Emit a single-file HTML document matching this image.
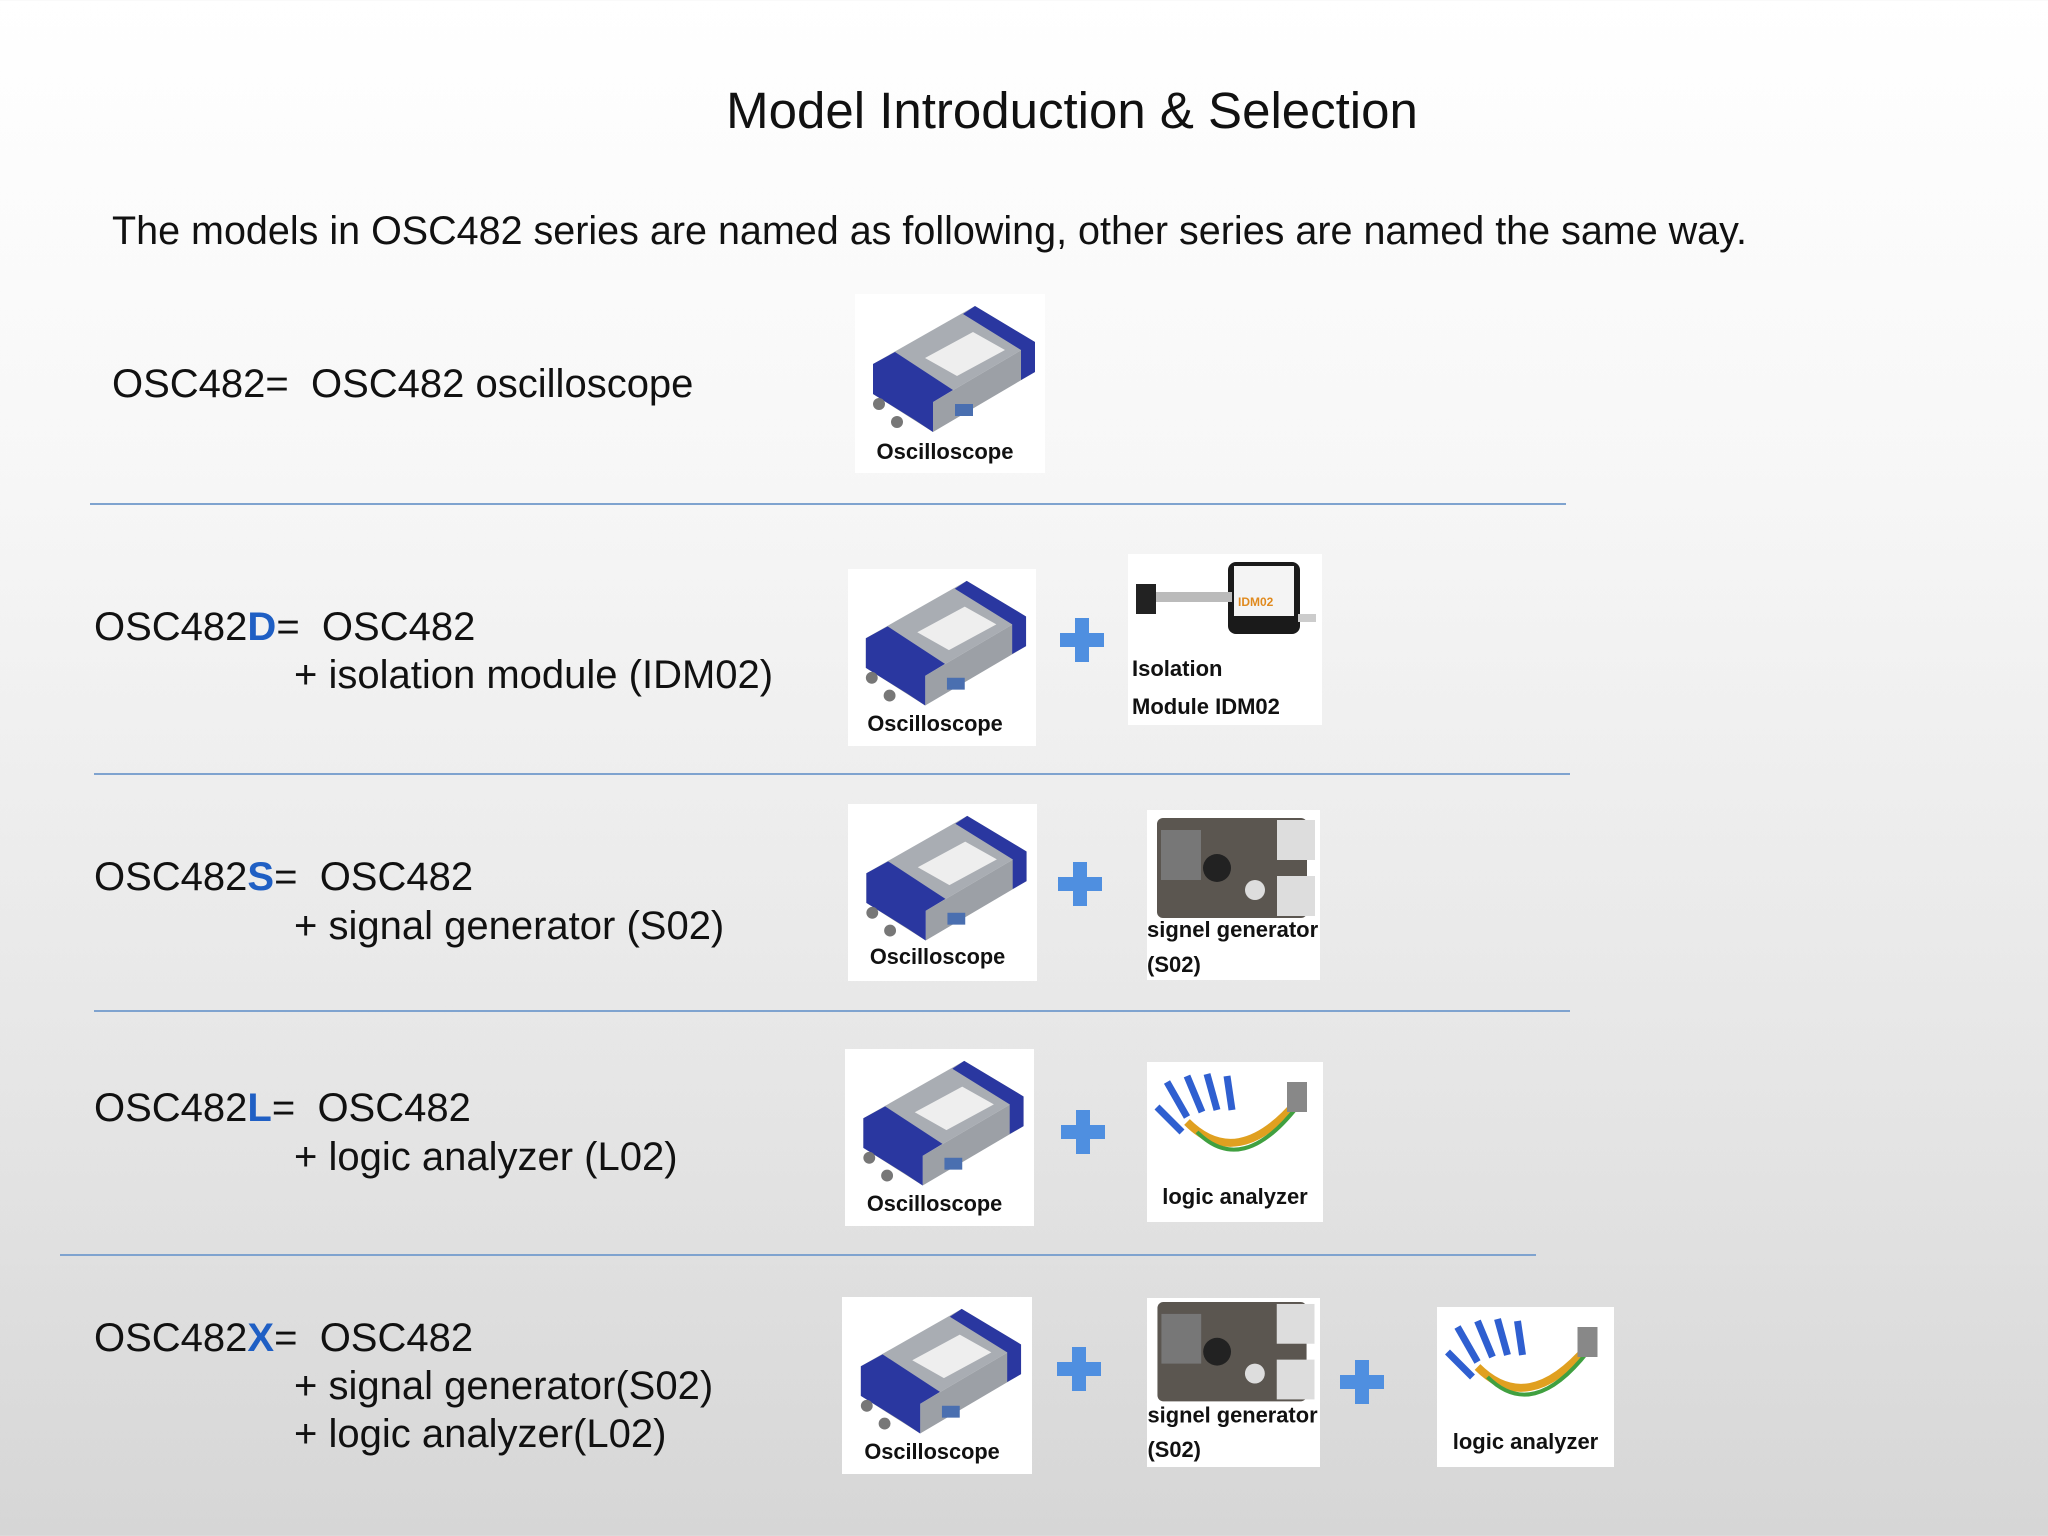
<!DOCTYPE html>
<html><head><meta charset="utf-8"><style>
*{margin:0;padding:0}
body{width:2048px;height:1536px;overflow:hidden;position:relative;font-family:"Liberation Sans",sans-serif;background:linear-gradient(#ffffff 0%,#f7f7f7 30%,#e6e6e6 70%,#d6d6d6 100%);color:#111}
.t{position:absolute;white-space:nowrap}
.b{color:#1f5fc4;font-weight:bold}
.line{position:absolute;height:2px;background:#7fa3cf}
.img{position:absolute;background:#fff}
.img svg{width:100%;height:100%;display:block}
.plus{position:absolute;width:44px;height:44px}
.plus:before{content:"";position:absolute;left:15px;top:0;width:14px;height:44px;background:#4f8fe0}
.plus:after{content:"";position:absolute;left:0;top:15px;width:44px;height:14px;background:#4f8fe0}
.lbl{font-family:"Liberation Sans",sans-serif;font-weight:bold;font-size:22px;fill:#111}
</style></head><body>
<div class="t" style="left:0;width:2144px;text-align:center;top:81px;font-size:51px">Model Introduction &amp; Selection</div>
<div class="t" style="left:112px;top:209px;font-size:39.5px">The models in OSC482 series are named as following, other series are named the same way.</div>

<div class="t" style="left:112px;top:362px;font-size:40px">OSC482=&nbsp; OSC482 oscilloscope</div>
<div class="line" style="left:90px;width:1476px;top:503px"></div>

<div class="t" style="left:94px;top:605px;font-size:40px">OSC482<span class="b">D</span>=&nbsp; OSC482</div>
<div class="t" style="left:294px;top:653px;font-size:40px">+ isolation module (IDM02)</div>
<div class="line" style="left:94px;width:1476px;top:773px"></div>

<div class="t" style="left:94px;top:855px;font-size:40px">OSC482<span class="b">S</span>=&nbsp; OSC482</div>
<div class="t" style="left:294px;top:904px;font-size:40px">+ signal generator (S02)</div>
<div class="line" style="left:94px;width:1476px;top:1010px"></div>

<div class="t" style="left:94px;top:1086px;font-size:40px">OSC482<span class="b">L</span>=&nbsp; OSC482</div>
<div class="t" style="left:294px;top:1135px;font-size:40px">+ logic analyzer (L02)</div>
<div class="line" style="left:60px;width:1476px;top:1254px"></div>

<div class="t" style="left:94px;top:1316px;font-size:40px">OSC482<span class="b">X</span>=&nbsp; OSC482</div>
<div class="t" style="left:294px;top:1364px;font-size:40px">+ signal generator(S02)</div>
<div class="t" style="left:294px;top:1412px;font-size:40px">+ logic analyzer(L02)</div>

<div class="img" style="left:855px;top:294px;width:190px;height:179px"><svg viewBox="0 0 190 179"><polygon points="18,70 120,12 180,48 78,108" fill="#a9adb3"/><polygon points="18,70 78,108 78,138 18,100" fill="#8a8f96"/><polygon points="78,108 180,48 180,78 78,138" fill="#9ca0a6"/><polygon points="18,70 40,58 98,96 78,108 78,138 60,126 18,100" fill="#2a37a0"/><polygon points="120,12 180,48 180,78 166,86 166,56 108,20" fill="#2a37a0"/><polygon points="70,64 118,38 150,56 102,82" fill="#eee"/><circle cx="24" cy="110" r="6" fill="#777"/><circle cx="42" cy="128" r="6" fill="#777"/><rect x="100" y="110" width="18" height="12" fill="#4a6fb0"/><text x="90" y="165" text-anchor="middle" class="lbl">Oscilloscope</text></svg></div>
<div class="img" style="left:848px;top:569px;width:188px;height:177px"><svg viewBox="0 0 190 179"><polygon points="18,70 120,12 180,48 78,108" fill="#a9adb3"/><polygon points="18,70 78,108 78,138 18,100" fill="#8a8f96"/><polygon points="78,108 180,48 180,78 78,138" fill="#9ca0a6"/><polygon points="18,70 40,58 98,96 78,108 78,138 60,126 18,100" fill="#2a37a0"/><polygon points="120,12 180,48 180,78 166,86 166,56 108,20" fill="#2a37a0"/><polygon points="70,64 118,38 150,56 102,82" fill="#eee"/><circle cx="24" cy="110" r="6" fill="#777"/><circle cx="42" cy="128" r="6" fill="#777"/><rect x="100" y="110" width="18" height="12" fill="#4a6fb0"/><text x="88" y="164" text-anchor="middle" class="lbl">Oscilloscope</text></svg></div>
<div class="img" style="left:848px;top:804px;width:189px;height:177px"><svg viewBox="0 0 190 179"><polygon points="18,70 120,12 180,48 78,108" fill="#a9adb3"/><polygon points="18,70 78,108 78,138 18,100" fill="#8a8f96"/><polygon points="78,108 180,48 180,78 78,138" fill="#9ca0a6"/><polygon points="18,70 40,58 98,96 78,108 78,138 60,126 18,100" fill="#2a37a0"/><polygon points="120,12 180,48 180,78 166,86 166,56 108,20" fill="#2a37a0"/><polygon points="70,64 118,38 150,56 102,82" fill="#eee"/><circle cx="24" cy="110" r="6" fill="#777"/><circle cx="42" cy="128" r="6" fill="#777"/><rect x="100" y="110" width="18" height="12" fill="#4a6fb0"/><text x="90" y="162" text-anchor="middle" class="lbl">Oscilloscope</text></svg></div>
<div class="img" style="left:845px;top:1049px;width:189px;height:177px"><svg viewBox="0 0 190 179"><polygon points="18,70 120,12 180,48 78,108" fill="#a9adb3"/><polygon points="18,70 78,108 78,138 18,100" fill="#8a8f96"/><polygon points="78,108 180,48 180,78 78,138" fill="#9ca0a6"/><polygon points="18,70 40,58 98,96 78,108 78,138 60,126 18,100" fill="#2a37a0"/><polygon points="120,12 180,48 180,78 166,86 166,56 108,20" fill="#2a37a0"/><polygon points="70,64 118,38 150,56 102,82" fill="#eee"/><circle cx="24" cy="110" r="6" fill="#777"/><circle cx="42" cy="128" r="6" fill="#777"/><rect x="100" y="110" width="18" height="12" fill="#4a6fb0"/><text x="90" y="164" text-anchor="middle" class="lbl">Oscilloscope</text></svg></div>
<div class="img" style="left:842px;top:1297px;width:190px;height:177px"><svg viewBox="0 0 190 179"><polygon points="18,70 120,12 180,48 78,108" fill="#a9adb3"/><polygon points="18,70 78,108 78,138 18,100" fill="#8a8f96"/><polygon points="78,108 180,48 180,78 78,138" fill="#9ca0a6"/><polygon points="18,70 40,58 98,96 78,108 78,138 60,126 18,100" fill="#2a37a0"/><polygon points="120,12 180,48 180,78 166,86 166,56 108,20" fill="#2a37a0"/><polygon points="70,64 118,38 150,56 102,82" fill="#eee"/><circle cx="24" cy="110" r="6" fill="#777"/><circle cx="42" cy="128" r="6" fill="#777"/><rect x="100" y="110" width="18" height="12" fill="#4a6fb0"/><text x="90" y="164" text-anchor="middle" class="lbl">Oscilloscope</text></svg></div>

<div class="img" style="left:1128px;top:554px;width:194px;height:171px"><svg viewBox="0 0 194 171"><rect x="100" y="8" width="72" height="72" rx="8" fill="#1a1a1a"/><rect x="106" y="12" width="60" height="50" fill="#f4f4f4"/><text x="110" y="52" font-size="12" font-weight="bold" fill="#e08a1e" font-family="Liberation Sans">IDM02</text><rect x="20" y="38" width="84" height="10" fill="#bbb"/><rect x="8" y="30" width="20" height="30" fill="#222"/><rect x="170" y="60" width="18" height="8" fill="#ccc"/><text x="4" y="122" class="lbl">Isolation</text><text x="4" y="160" class="lbl">Module IDM02</text></svg></div>

<div class="img" style="left:1147px;top:810px;width:173px;height:170px"><svg viewBox="0 0 173 170"><rect x="10" y="8" width="150" height="100" rx="6" fill="#5b5650"/><rect x="14" y="20" width="40" height="50" fill="#777"/><circle cx="70" cy="58" r="14" fill="#222"/><circle cx="108" cy="80" r="10" fill="#ddd"/><rect x="130" y="10" width="38" height="40" fill="#ddd"/><rect x="130" y="66" width="38" height="40" fill="#ddd"/><text x="0" y="127" class="lbl">signel generator</text><text x="0" y="162" class="lbl">(S02)</text></svg></div>
<div class="img" style="left:1147px;top:1298px;width:173px;height:169px"><svg viewBox="0 0 173 170"><rect x="10" y="4" width="150" height="100" rx="6" fill="#5b5650"/><rect x="14" y="16" width="40" height="50" fill="#777"/><circle cx="70" cy="54" r="14" fill="#222"/><circle cx="108" cy="76" r="10" fill="#ddd"/><rect x="130" y="6" width="38" height="40" fill="#ddd"/><rect x="130" y="62" width="38" height="40" fill="#ddd"/><text x="0" y="125" class="lbl">signel generator</text><text x="0" y="160" class="lbl">(S02)</text></svg></div>

<div class="img" style="left:1147px;top:1062px;width:176px;height:160px"><svg viewBox="0 0 176 160"><g stroke="#2f5fd0" stroke-width="7"><line x1="20" y1="20" x2="40" y2="55"/><line x1="40" y1="14" x2="55" y2="50"/><line x1="60" y1="12" x2="70" y2="48"/><line x1="80" y1="14" x2="85" y2="48"/><line x1="10" y1="45" x2="35" y2="70"/></g><path d="M40 60 Q90 110 150 40" stroke="#e0a020" stroke-width="8" fill="none"/><path d="M50 70 Q95 115 150 45" stroke="#40a040" stroke-width="4" fill="none"/><rect x="140" y="20" width="20" height="30" fill="#888"/><text x="88" y="142" text-anchor="middle" class="lbl">logic analyzer</text></svg></div>
<div class="img" style="left:1437px;top:1307px;width:177px;height:160px"><svg viewBox="0 0 176 160"><g stroke="#2f5fd0" stroke-width="7"><line x1="20" y1="20" x2="40" y2="55"/><line x1="40" y1="14" x2="55" y2="50"/><line x1="60" y1="12" x2="70" y2="48"/><line x1="80" y1="14" x2="85" y2="48"/><line x1="10" y1="45" x2="35" y2="70"/></g><path d="M40 60 Q90 110 150 40" stroke="#e0a020" stroke-width="8" fill="none"/><path d="M50 70 Q95 115 150 45" stroke="#40a040" stroke-width="4" fill="none"/><rect x="140" y="20" width="20" height="30" fill="#888"/><text x="88" y="142" text-anchor="middle" class="lbl">logic analyzer</text></svg></div>

<div class="plus" style="left:1060px;top:618px"></div>
<div class="plus" style="left:1058px;top:862px"></div>
<div class="plus" style="left:1061px;top:1110px"></div>
<div class="plus" style="left:1057px;top:1347px"></div>
<div class="plus" style="left:1340px;top:1360px"></div>
</body></html>
